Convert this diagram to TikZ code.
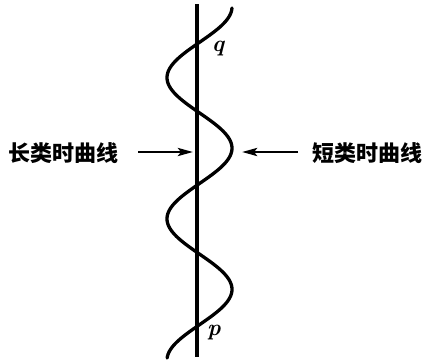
\documentclass[tikz,border=0pt]{standalone}
\usepackage{fontspec}
\newfontfamily\cjk{Noto Sans CJK SC}
\usetikzlibrary{arrows.meta}
\begin{document}
\begin{tikzpicture}[x=1pt,y=-1pt,
  thickline/.style={line width=3.3pt},
  lbl/.style={font=\cjk\bfseries\fontsize{22}{22}\selectfont, inner sep=0pt},
  ptlbl/.style={font=\bfseries\itshape\fontsize{23}{23}\selectfont, inner sep=0pt},
  arr/.style={line width=2.8pt,-{Stealth[length=15pt,width=8pt,inset=3pt]}}]
\useasboundingbox (0,0) rectangle (425,362);
% world line
\coordinate (top) at (197,4);
\coordinate (bot) at (197,357);
\draw[thickline] (top) -- (bot);
% wavy curve
\draw[thickline,line cap=round,domain=8:358,samples=200,variable=\t]
  plot ({199.5+32.5*cos((\t-7)*2.5496)},{\t});
% labels
\node[ptlbl] (q) at (218,49) {q};
\node[ptlbl] (p) at (214,333) {p};
\node[lbl,anchor=west] (long) at (8,153) {长类时曲线};
\node[lbl,anchor=east] (short) at (423,153) {短类时曲线};
\coordinate (lt) at (138,152);
\coordinate (rt) at (298,152);
\coordinate (la) at (193,152);
\coordinate (ra) at (242,152);
\draw[arr] (lt) -- (la);
\draw[arr] (rt) -- (ra);
\end{tikzpicture}
\end{document}
